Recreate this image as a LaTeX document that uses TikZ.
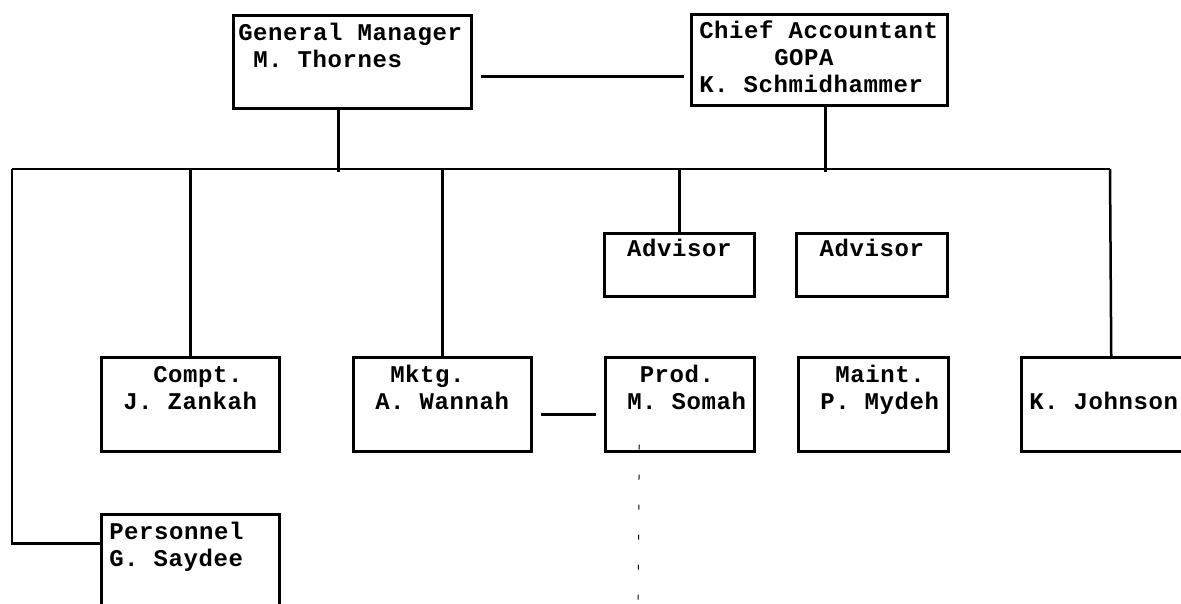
\documentclass[tikz,border=0pt]{standalone}
\usepackage{fontspec}
\newfontfamily\tw{Liberation Mono}[LetterSpace=2.5]
\newdimen\chwd \chwd=15pt
\newcommand\ind[1]{\hspace*{#1\chwd}}
\newcommand\gap{\hspace*{\chwd}}
\newcommand\boxfont{\tw\bfseries\fontsize{24}{27}\selectfont}
\begin{document}
\begin{tikzpicture}[x=1pt,y=-1pt,
  box/.style={draw, line width=2.5pt, rectangle, anchor=north west, align=left,
    inner xsep=7pt, inner ysep=0pt, font=\boxfont},
  cbox/.style={box, align=center},
  link/.style={line width=2.5pt},
  dashlink/.style={line width=1pt, dash pattern=on 5pt off 25pt}]
\clip (0,0) rectangle (1181,603);
% top row
\node[box, minimum width=238pt, minimum height=93pt, text width=228pt, inner xsep=5pt] (gm) at (232,14)
  {\strut General\gap{}Manager\\\ind{1}M.\gap{}Thornes\\\strut};
\node[box, minimum width=256pt, minimum height=91pt, text width=240pt, inner xsep=8pt] (chief) at (690,13)
  {\strut Chief\gap{}Accountant\\\ind{5}GOPA\\\strut K.\gap{}Schmidhammer};
% advisors
\node[cbox, minimum width=150pt, minimum height=63pt, text width=136pt] (adv1) at (603,232)
  {\strut Advisor\\\strut};
\node[cbox, minimum width=151pt, minimum height=63pt, text width=137pt] (adv2) at (795,232)
  {\strut Advisor\\\strut};
% middle row
\node[box, minimum width=178pt, minimum height=94pt, text width=164pt] (compt) at (100,356)
  {\ind{3}\strut Compt.\\\ind{1}J.\gap{}Zankah\\\strut};
\node[box, minimum width=178pt, minimum height=94pt, text width=164pt] (mktg) at (352,356)
  {\ind{2}\strut Mktg.\\\ind{1}A.\gap{}Wannah\\\strut};
\node[box, minimum width=149pt, minimum height=94pt, text width=140pt, inner xsep=4.5pt] (prod) at (604,356)
  {\ind{2}\strut Prod.\\\hspace*{17.5pt}M.\gap{}Somah\\\strut};
\node[box, minimum width=150pt, minimum height=94pt, text width=140pt, inner xsep=5pt] (maint) at (797,356)
  {\hspace*{32pt}\strut Maint.\\\hspace*{17pt}P.\gap{}Mydeh\\\strut};
\node[box, minimum width=180pt, minimum height=94pt, text width=164pt, inner xsep=8pt] (kj) at (1020,356)
  {\strut K.\gap{}Johnson};
% bottom
\node[box, minimum width=178pt, minimum height=94pt, text width=162pt, inner xsep=8pt] (pers) at (100,513)
  {\strut Personnel\\\strut G.\gap{}Saydee\\\strut};
% connectors
\coordinate (busL) at (12,169);
\coordinate (busR) at (1110,169);
\coordinate (dend) at (638,610);
\draw[link] ([xshift=8pt,yshift=-14.5pt]gm.east) -- ([xshift=-6pt,yshift=-16.5pt]chief.west);
\draw[link] ([xshift=-14pt]gm.south) -- ++(0,62);
\draw[link] ([xshift=6pt]chief.south) -- ++(0,65);
\draw[link] (busL) -- (busR);
\draw[link] (busL) |- ([yshift=18pt]pers.west);
\draw[link] (busL -| compt.north) -- (compt.north);
\draw[link] (busL -| mktg.north) -- (mktg.north);
\draw[link] (busL -| adv1.north) -- (adv1.north);
\draw[link] (busR) -- (kj.north);
\draw[link] ([xshift=8pt,yshift=-10pt]mktg.east) -- ([xshift=-8pt,yshift=-10pt]prod.west);
\draw[dashlink] ([xshift=-40.5pt,yshift=8pt]prod.south) -- (dend);
\end{tikzpicture}
\end{document}
